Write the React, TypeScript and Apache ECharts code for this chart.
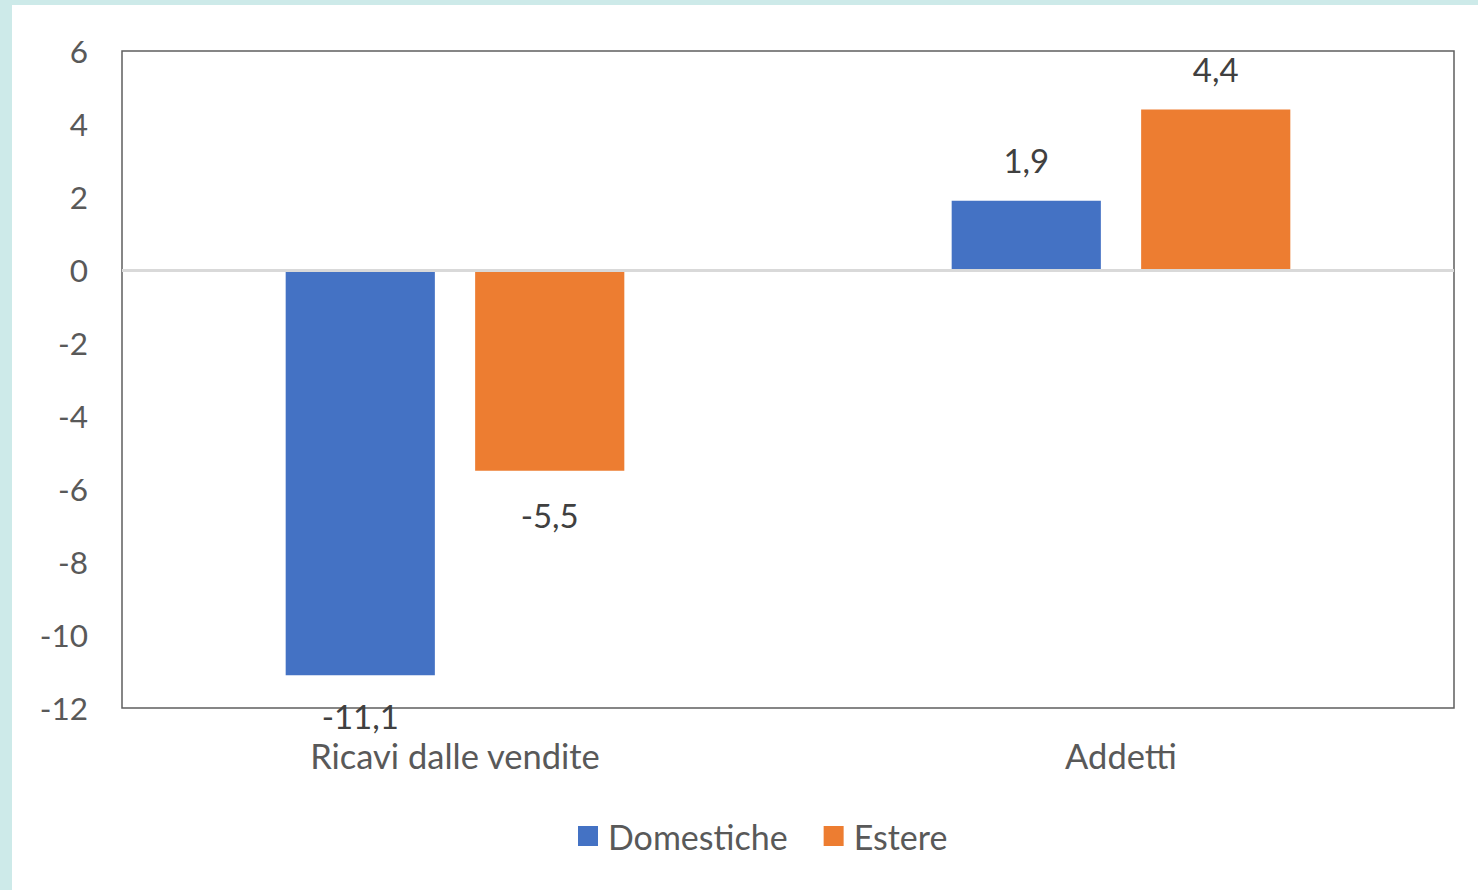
import React, { useEffect, useRef } from "react";
import * as echarts from "echarts";

const categories = ["Ricavi dalle vendite", "Addetti"];
const domestiche = [-11.1, 1.9];
const estere = [-5.5, 4.4];
const seriesNames = ["Domestiche", "Estere"];
const yTicks = { min: -12, max: 6, interval: 2 };

const FONT = "Lato, 'Open Sans', sans-serif";
const TXT = "#595959";

export default function App() {
  const ref = useRef<HTMLDivElement>(null);
  useEffect(() => {
    document.body.style.margin = "0";
    const chart = echarts.init(ref.current!, null, { renderer: "svg" });
    const fmt = (p: any) => String(p.value).replace(".", ",");
    const label = (vals: number[]) =>
      vals.map((v) => ({
        value: v,
        label: {
          show: true,
          position: v < 0 ? "bottom" : "top",
          distance: v < -8 ? 24 : v < 0 ? 28 : 24,
          formatter: fmt,
          fontSize: 33,
          color: "#404040",
          fontFamily: FONT,
        },
      }));
    chart.setOption({
      animation: false,
      backgroundColor: "#cdeae9",
      textStyle: { fontFamily: FONT },
      graphic: [
        {
          type: "rect",
          z: -10,
          silent: true,
          shape: { x: 12, y: 5, width: 1478, height: 900 },
          style: { fill: "#ffffff" },
        },
      ],
      grid: {
        left: 122,
        right: 24,
        top: 51,
        bottom: 182,
        show: true,
        borderColor: "#5f5f5f",
        borderWidth: 1.5,
        backgroundColor: "transparent",
      },
      legend: {
        data: seriesNames,
        top: 814,
        left: 573,
        icon: "rect",
        itemWidth: 20,
        itemHeight: 20,
        itemGap: 36,
        textStyle: {
          fontSize: 34,
          color: TXT,
          fontFamily: FONT,
          padding: [0, 0, 0, 5],
        },
      },
      xAxis: {
        type: "category",
        data: categories,
        position: "bottom",
        axisLine: { show: false, onZero: false },
        axisTick: { show: false },
        axisLabel: { fontSize: 34.5, color: TXT, margin: 30, fontFamily: FONT },
      },
      yAxis: {
        type: "value",
        min: yTicks.min,
        max: yTicks.max,
        interval: yTicks.interval,
        axisLine: { show: false },
        axisTick: { show: false },
        splitLine: { show: false },
        axisLabel: {
          fontSize: 31.5,
          color: TXT,
          margin: 34,
          fontFamily: FONT,
        },
      },
      series: [
        {
          name: seriesNames[0],
          type: "bar",
          data: label(domestiche),
          itemStyle: { color: "#4472C4" },
          barWidth: "22.4%",
          barGap: "27%",
          markLine: {
            silent: true,
            symbol: "none",
            label: { show: false },
            lineStyle: { color: "#d9d9d9", width: 3, type: "solid" },
            data: [{ yAxis: 0 }],
          },
        },
        {
          name: seriesNames[1],
          type: "bar",
          data: label(estere),
          itemStyle: { color: "#ED7D31" },
          barWidth: "22.4%",
          barGap: "27%",
        },
      ],
    });
    return () => chart.dispose();
  }, []);
  return <div ref={ref} style={{ width: 1478, height: 890 }} />;
}
